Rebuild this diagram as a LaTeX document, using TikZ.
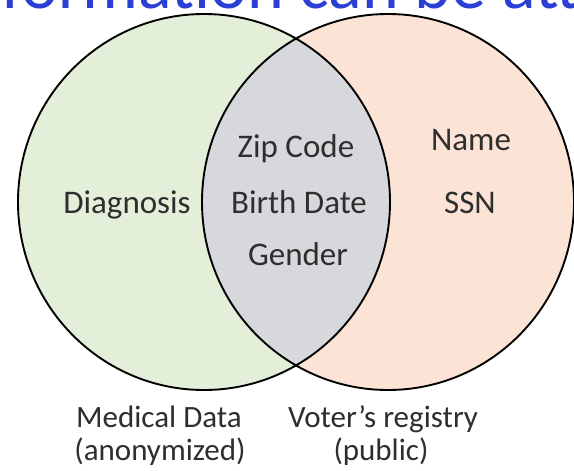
\documentclass[tikz,border=0pt]{standalone}
\usepackage{fontspec}
\setmainfont{Carlito}
\usepackage{tikz}
\usetikzlibrary{shapes.geometric, positioning}
\definecolor{MedGreen}{HTML}{E3EFD9}
\definecolor{VoterPeach}{HTML}{FBE4D5}
\definecolor{OverlapGray}{HTML}{D6D8DC}
\definecolor{TitleBlue}{HTML}{2B3FD4}
\definecolor{TextGray}{HTML}{2E2E2E}

\tikzset{
  venn/.style={ellipse, minimum width=372pt, minimum height=376pt, inner sep=0pt},
  field/.style={anchor=base, text=TextGray, font=\fontsize{33}{36}\selectfont, inner sep=0pt},
  setlabel/.style={anchor=base, text=TextGray, font=\fontsize{31}{36}\selectfont, inner sep=0pt}
}

\begin{document}
\begin{tikzpicture}[x=1pt, y=-1pt]
  \useasboundingbox (0,0) rectangle (574,471);
  \clip (0,0) rectangle (574,471);
  \fill[white] (0,0) rectangle (574,471);

  % cut-off heading
  \node[anchor=base west, text=TitleBlue, font=\fontsize{70}{72}\selectfont, inner sep=0pt]
    (heading) at (1,9) {formation can be att};

  % the two sets
  \node[venn, fill=MedGreen] (medical) at (204,202) {};
  \node[venn, fill=VoterPeach] (voter) at (388,202) {};
  \begin{scope}
    \clip (medical.center) ellipse[x radius=186pt, y radius=188pt];
    \fill[OverlapGray] (voter.center) ellipse[x radius=186pt, y radius=188pt];
  \end{scope}
  \draw[line width=1.9pt] (medical.center) ellipse[x radius=186pt, y radius=188pt]
    (voter.center) ellipse[x radius=186pt, y radius=188pt];

  % fields
  \node[field] (zip) at (296,157) {Zip Code};
  \node[field] (birth) at (299,213) {Birth Date};
  \node[field] (gender) at (298,265) {Gender};
  \node[field] (diag) at (127,213) {Diagnosis};
  \node[field] (name) at (471,150) {Name};
  \node[field] (ssn) at (470,213) {SSN};

  % set names
  \node[setlabel] (medname) at (159,427) {Medical Data};
  \node[setlabel] (medsub) at (160,460) {(anonymized)};
  \node[setlabel] (votname) at (383,427) {Voter’s registry};
  \node[setlabel] (votsub) at (381,460) {(public)};
\end{tikzpicture}
\end{document}
